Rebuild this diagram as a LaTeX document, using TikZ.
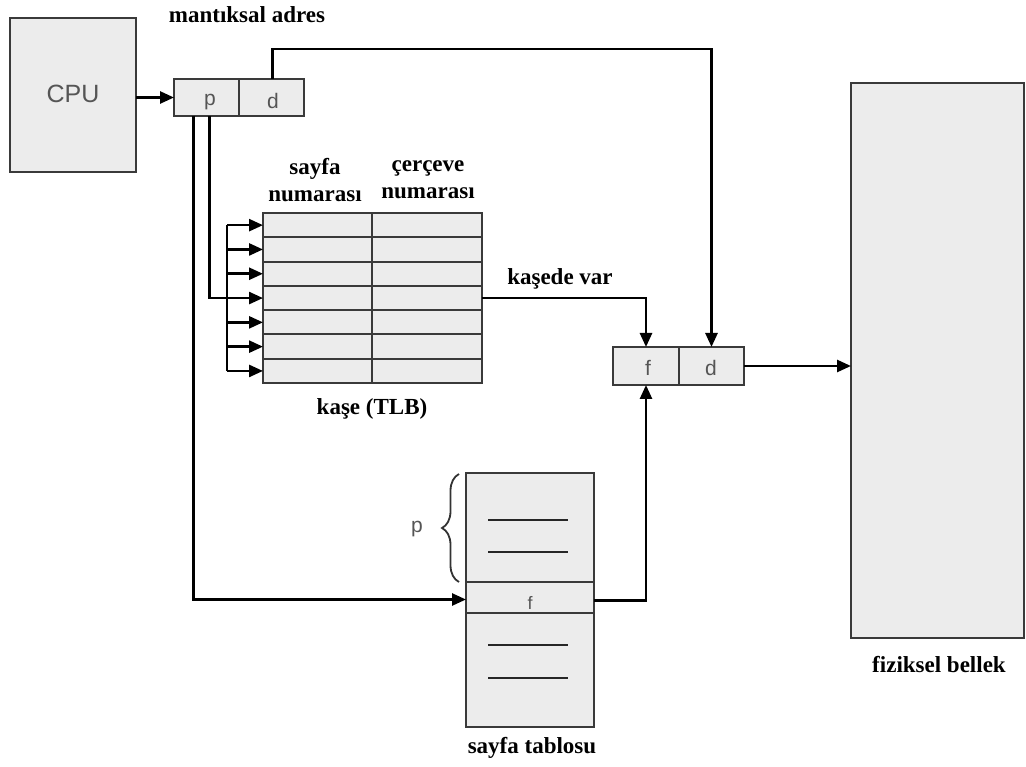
\documentclass[tikz,border=0pt]{standalone}
\usepackage{fontspec}
\setmainfont{Liberation Serif}
\newfontfamily\sff{Liberation Sans}
\usetikzlibrary{arrows.meta,decorations.pathreplacing,calc}
\definecolor{boxfill}{HTML}{ECECEC}
\definecolor{boxline}{HTML}{3A3A3A}
\definecolor{inner}{HTML}{555555}
\tikzset{
  box/.style={draw=boxline, fill=boxfill, line width=2pt, inner sep=0pt, outer sep=0pt, anchor=north west},
  lbl/.style={font=\fontsize{23}{27}\selectfont\bfseries, text=black, inner sep=0pt},
  sl/.style={font=\sff\fontsize{21}{23}\selectfont, text=inner, inner sep=0pt, anchor=base},
  conn/.style={line width=2.6pt, draw=black},
  arr/.style={conn, -{Triangle[length=14pt,width=12pt]}},
  tick/.style={line width=2.2pt, draw=black!85},
}
\begin{document}
\begin{tikzpicture}[x=1pt,y=-1pt]
\useasboundingbox (0,0) rectangle (1026,767);
% CPU
\node[box, minimum width=126pt, minimum height=154pt] (cpu) at (10,18) {};
\node[sl, font=\sff\fontsize{25}{27}\selectfont] (cputxt) at (73,103) {CPU};
% logical address
\node[lbl] (ladr) at (247,15) {mantıksal adres};
\node[box, minimum width=65pt, minimum height=37pt] (ap) at (174,79) {};
\node[box, minimum width=65pt, minimum height=37pt] (ad) at (239,79) {};
\node[sl] (aptxt) at (210,106) {p};
\node[sl] (adtxt) at (273,109) {d};
% TLB
\foreach \i in {1,...,7}{
  \node[box, minimum width=109pt, minimum height=24.3pt] (t\i l) at (263,{213+(\i-1)*24.3}) {};
  \node[box, minimum width=110pt, minimum height=24.3pt] (t\i r) at (372,{213+(\i-1)*24.3}) {};
}
\node[lbl, align=center] (h1) at (315,180) {sayfa\\numarası};
\node[lbl, align=center] (h2) at (428,180) {çerçeve\\numarası};
\node[lbl] (tlbl) at (372,409) {kaşe (TLB)};
% f d
\node[box, minimum width=66pt, minimum height=38pt] (ff) at (613,347) {};
\node[box, minimum width=65pt, minimum height=38pt] (fd) at (679,347) {};
\node[sl] (fftxt) at (648,376) {f};
\node[sl] (fdtxt) at (711,376) {d};
% page table
\node[box, minimum width=128pt, minimum height=254pt] (pt) at (466,473) {};
\node[box, minimum width=128pt, minimum height=31pt] (ptf) at (466,582) {};
\node[sl, font=\sff\fontsize{18}{20}\selectfont] (pttxt) at (530,609) {f};
\foreach \yy in {520,552,645,678}{
  \draw[tick] (488,\yy) -- (568,\yy);
}
\node[lbl] (ptl) at (532,748) {sayfa tablosu};
\draw[line width=1.8pt, draw=black!80, decorate, decoration={brace, amplitude=17pt}]
  (459,582) -- (459,474);
\node[sl] (pl) at (417,532) {p};
% physical memory
\node[box, minimum width=173pt, minimum height=555pt] (mem) at (851,83) {};
\node[lbl] (meml) at (939,665) {fiziksel bellek};
% connectors
\draw[arr] (cpu.east |- ap.west) -- (ap.west);
\draw[arr] ([xshift=1pt]ad.north) -- ++(0,-30) -| (fd.north);
\coordinate (pa) at ([xshift=-13pt]ap.south);
\coordinate (pb) at ([xshift=3pt]ap.south);
\draw[arr] (pa) |- ([yshift=-2pt]ptf.west);
\coordinate (bus1) at (227,{213+12.15});
\coordinate (bus7) at (227,{213+6*24.3+12.15});
\draw[conn] (bus1) -- (bus7);
\foreach \i in {1,...,7}{
  \draw[arr] (t\i l.west -| bus1) -- (t\i l.west);
}
\draw[conn] (pb) |- (t4l.west -| bus1);
\draw[arr] (t4r.east) -| (ff.north);
\node[lbl] (kv) at (560,279) {kaşede var};
\draw[arr] ([yshift=-3pt]ptf.east) -| (ff.south);
\draw[arr] (fd.east) -- (mem.west |- fd.east);
\end{tikzpicture}
\end{document}
